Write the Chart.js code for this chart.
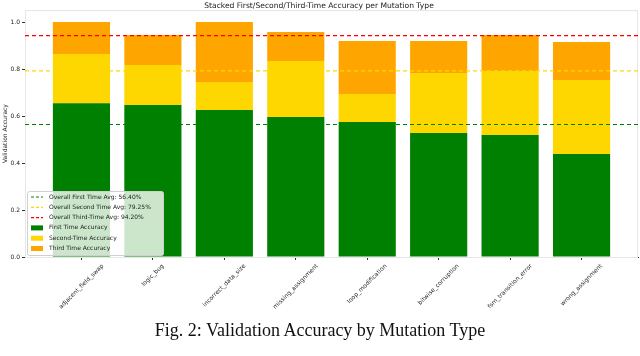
<!DOCTYPE html>
<html>
<head>
<meta charset="utf-8">
<script src="https://cdn.jsdelivr.net/npm/chart.js@4.4.1/dist/chart.umd.min.js"></script>
<style>
  html, body { margin: 0; padding: 0; background: #fff; }
  #wrap { position: relative; width: 640px; height: 356px; }
  #chart-box { position: absolute; left: 0; top: 0; width: 640px; height: 322px; }
  #caption {
    position: absolute; left: 0; top: 320px; width: 640px; text-align: center;
    font-family: 'Liberation Serif', 'Times New Roman', serif; font-size: 18px; color: #111;
  }
</style>
</head>
<body>
<div id="wrap">
  <div id="chart-box"><canvas id="acc-chart"></canvas></div>
  <div id="caption">Fig. 2: Validation Accuracy by Mutation Type</div>
</div>
<script>
// data
const categories = ['adjacent_field_swap', 'logic_bug', 'incorrect_data_size', 'missing_assignment',
                    'loop_modification', 'bitwise_corruption', 'fsm_transition_error', 'wrong_assignment'];
const firstTime  = [0.655, 0.647, 0.626, 0.596, 0.575, 0.528, 0.519, 0.438];
const secondTime = [0.864, 0.817, 0.745, 0.834, 0.694, 0.783, 0.792, 0.753]; // cumulative
const thirdTime  = [1.000, 0.945, 1.000, 0.958, 0.920, 0.920, 0.945, 0.915]; // cumulative
const avgFirst = 0.5640;
const avgSecond = 0.7925;
const avgThird = 0.9420;
const yTicks = [0, 0.2, 0.4, 0.6, 0.8, 1.0];

const GREEN = '#008000', GOLD = '#FFD700', ORANGE = '#FFA500', RED = '#FF0000';
const X_MIN = -0.79, X_MAX = categories.length - 1 + 0.79;

Chart.defaults.font.family = "'DejaVu Sans', sans-serif";
Chart.defaults.color = '#222';

function barData(vals) {
  return vals.map(function(v, i) { return { x: i, y: v }; });
}
function avgLine(v) {
  return [{ x: X_MIN, y: v }, { x: X_MAX, y: v }];
}

const secondInc = secondTime.map(function(v, i) { return v - firstTime[i]; });
const thirdInc = thirdTime.map(function(v, i) { return v - secondTime[i]; });

const legendItems = [
  { kind: 'line', color: GREEN, text: 'Overall First Time Avg: ' + (avgFirst * 100).toFixed(2) + '%' },
  { kind: 'line', color: GOLD, text: 'Overall Second Time Avg: ' + (avgSecond * 100).toFixed(2) + '%' },
  { kind: 'line', color: RED, text: 'Overall Third-Time Avg: ' + (avgThird * 100).toFixed(2) + '%' },
  { kind: 'box', color: GREEN, text: 'First Time Accuracy' },
  { kind: 'box', color: GOLD, text: 'Second-Time Accuracy' },
  { kind: 'box', color: ORANGE, text: 'Third Time Accuracy' }
];

// light frame around the axes, like matplotlib spines
const framePlugin = {
  id: 'frame',
  beforeDatasetsDraw: function(chart) {
    const a = chart.chartArea, ctx = chart.ctx;
    ctx.save();
    ctx.strokeStyle = '#e6e6e6';
    ctx.lineWidth = 1;
    ctx.strokeRect(a.left + 0.5, a.top + 0.5, a.right - a.left - 1, a.bottom - a.top);
    ctx.restore();
  }
};

// rotated x labels, centred under each tick (matplotlib rotation=45, ha=center)
const xLabelPlugin = {
  id: 'xlabels',
  afterDraw: function(chart) {
    const xs = chart.scales.x, ctx = chart.ctx;
    const fs = 6;
    ctx.save();
    ctx.font = fs + "px 'DejaVu Sans'";
    ctx.fillStyle = '#222';
    ctx.textAlign = 'center';
    ctx.textBaseline = 'middle';
    categories.forEach(function(c, i) {
      const w = ctx.measureText(c).width;
      const half = (w + fs) * Math.SQRT1_2 / 2;
      const px = xs.getPixelForValue(i);
      const py = chart.chartArea.bottom + 6 + half;
      ctx.save();
      ctx.translate(px, py);
      ctx.rotate(-Math.PI / 4);
      ctx.fillText(c, 0, 0);
      ctx.restore();
    });
    ctx.restore();
  }
};

// legend sitting inside the axes, lower left
const innerLegendPlugin = {
  id: 'innerLegend',
  afterDatasetsDraw: function(chart) {
    const a = chart.chartArea, ctx = chart.ctx;
    const x0 = a.left + 2, y0 = a.bottom - 66, w = 136, h = 64;
    ctx.save();
    ctx.fillStyle = 'rgba(255,255,255,0.8)';
    ctx.strokeStyle = '#d0d0d0';
    ctx.lineWidth = 1;
    ctx.beginPath();
    ctx.roundRect(x0 + 0.5, y0 + 0.5, w, h, 2);
    ctx.fill();
    ctx.stroke();
    ctx.font = "6px 'DejaVu Sans'";
    ctx.textBaseline = 'middle';
    legendItems.forEach(function(it, i) {
      const cy = y0 + 6 + i * 10.3;
      if (it.kind === 'line') {
        ctx.strokeStyle = it.color;
        ctx.lineWidth = 1.2;
        ctx.setLineDash([3, 2]);
        ctx.beginPath();
        ctx.moveTo(x0 + 4, cy);
        ctx.lineTo(x0 + 16, cy);
        ctx.stroke();
        ctx.setLineDash([]);
      } else {
        ctx.fillStyle = it.color;
        ctx.fillRect(x0 + 4, cy - 2.5, 12, 5);
      }
      ctx.fillStyle = '#222';
      ctx.fillText(it.text, x0 + 22, cy);
    });
    ctx.restore();
  }
};

const config = {
  type: 'bar',
  data: {
    datasets: [
      { label: 'First Time Accuracy', data: barData(firstTime), backgroundColor: GREEN, stack: 'acc', order: 2 },
      { label: 'Second-Time Accuracy', data: barData(secondInc), backgroundColor: GOLD, stack: 'acc', order: 2 },
      { label: 'Third Time Accuracy', data: barData(thirdInc), backgroundColor: ORANGE, stack: 'acc', order: 2 },
      { type: 'line', label: 'avg1', data: avgLine(avgFirst), borderColor: GREEN, stack: 'l1', order: 1 },
      { type: 'line', label: 'avg2', data: avgLine(avgSecond), borderColor: GOLD, stack: 'l2', order: 1 },
      { type: 'line', label: 'avg3', data: avgLine(avgThird), borderColor: RED, stack: 'l3', order: 1 }
    ]
  },
  options: {
    responsive: true,
    maintainAspectRatio: false,
    animation: false,
    layout: { padding: { left: 0, right: 2, top: 0, bottom: 0 } },
    datasets: {
      bar: { categoryPercentage: 1.0, barPercentage: 0.8, borderWidth: 0 },
      line: { borderWidth: 1.2, borderDash: [4, 3], pointRadius: 0, fill: false }
    },
    plugins: {
      legend: { display: false },
      tooltip: { enabled: false },
      title: {
        display: true,
        text: 'Stacked First/Second/Third-Time Accuracy per Mutation Type',
        font: { size: 7.6, weight: 'normal' },
        color: '#222',
        padding: { top: 1, bottom: 0 }
      }
    },
    scales: {
      x: {
        type: 'linear',
        offset: false,
        min: X_MIN,
        max: X_MAX,
        afterBuildTicks: function(scale) {
          scale.ticks = categories.map(function(c, i) { return { value: i }; });
        },
        afterFit: function(scale) { scale.height = 65; },
        ticks: { display: false },
        grid: { offset: false, drawOnChartArea: false, drawTicks: true, tickLength: 3, color: '#333' },
        border: { color: '#222', width: 1 }
      },
      y: {
        stacked: true,
        min: 0,
        max: 1.051,
        afterBuildTicks: function(scale) {
          scale.ticks = yTicks.map(function(v) { return { value: v }; });
        },
        afterFit: function(scale) { scale.width = 25; },
        ticks: {
          font: { size: 6 },
          color: '#222',
          padding: 2,
          callback: function(v) { return v.toFixed(1); }
        },
        grid: { drawOnChartArea: false, drawTicks: true, tickLength: 3, color: '#333' },
        border: { color: '#e6e6e6' },
        title: { display: true, text: 'Validation Accuracy', font: { size: 6 }, padding: { top: 2, bottom: 0 } }
      }
    }
  },
  plugins: [framePlugin, innerLegendPlugin, xLabelPlugin]
};

const accChart = new Chart(document.getElementById('acc-chart'), config);
</script>
</body>
</html>
